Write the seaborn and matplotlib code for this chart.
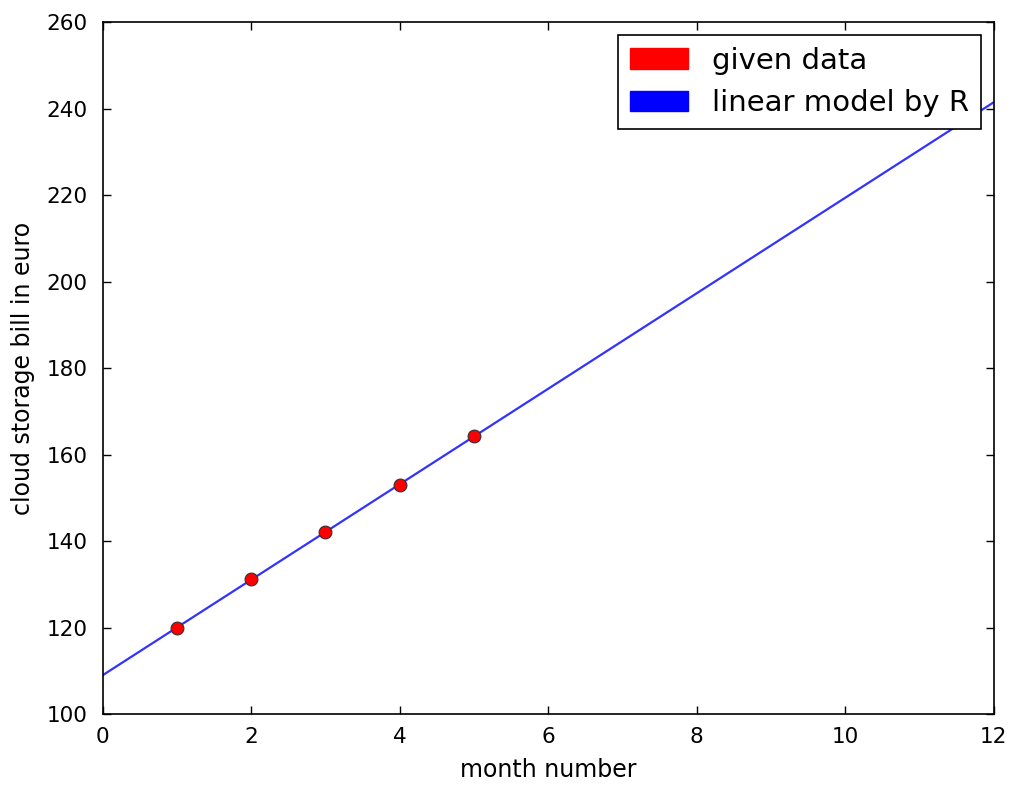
import numpy as np
import pandas as pd
import matplotlib
matplotlib.use("Agg")
import matplotlib.pyplot as plt
import matplotlib.patches as mpatches
import seaborn as sns

# Data
months = [1, 2, 3, 4, 5]
bill = [120.0, 131.2, 142.0, 153.0, 164.3]

# Linear model ("by R") fitted on the given data
slope, intercept = np.polyfit(months, bill, 1)
model_x = np.array([0, 12])
model_df = pd.DataFrame({"month": model_x, "bill": intercept + slope * model_x})
data_df = pd.DataFrame({"month": months, "bill": bill})

sns.set_style("ticks")
plt.rcParams["font.family"] = ["DejaVu Sans"]

fig = plt.figure(figsize=(10.15, 7.9), dpi=100)
ax = fig.add_axes([0.101, 0.096, 0.878, 0.876])

sns.lineplot(data=model_df, x="month", y="bill", color="blue", alpha=0.8,
             linewidth=1.6, ax=ax)
sns.scatterplot(data=data_df, x="month", y="bill", color="red", s=85,
                edgecolor="#333333", linewidth=0.8, zorder=3, ax=ax)

ax.set_xlim(0, 12)
ax.set_ylim(100, 260)
ax.set_xticks(range(0, 13, 2))
ax.set_yticks(range(100, 261, 20))
ax.tick_params(direction="in", top=True, right=True, length=6, width=1,
               labelsize=15.5, color="black", labelcolor="black")
ax.tick_params(axis="x", pad=9)
ax.tick_params(axis="y", pad=11)
for sp in ax.spines.values():
    sp.set_visible(True)
    sp.set_color("black")
    sp.set_linewidth(1.2)

ax.set_xlabel("month number", fontsize=17, color="black", labelpad=8)
ax.set_ylabel("cloud storage bill in euro", fontsize=17, color="black",
              labelpad=8)

handles = [mpatches.Patch(color="red", label="given data"),
           mpatches.Patch(color="blue", label="linear model by R")]
leg = ax.legend(handles=handles, loc="upper right", fontsize=21,
                fancybox=False, frameon=True, edgecolor="black",
                framealpha=1, handlelength=2.0, handleheight=0.7,
                borderaxespad=0.45, labelcolor="black")
leg.get_frame().set_linewidth(1.2)

plt.savefig("out.png", dpi=100)
